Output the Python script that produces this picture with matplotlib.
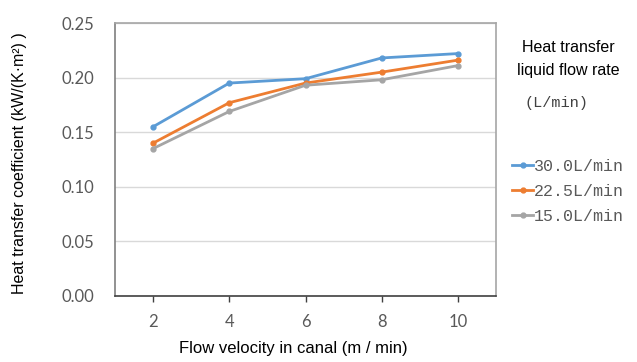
import matplotlib.pyplot as plt
import numpy as np

velocity = ["2", "4", "6", "8", "10"]
flow_labels = ["30.0L/min", "22.5L/min", "15.0L/min"]
coef_30 = [0.155, 0.195, 0.199, 0.218, 0.222]
coef_225 = [0.140, 0.177, 0.195, 0.205, 0.216]
coef_15 = [0.135, 0.169, 0.193, 0.198, 0.211]
colors = ["#5B9BD5", "#ED7D31", "#A5A5A5"]

plt.rcParams['font.family'] = ['Liberation Sans', 'DejaVu Sans']

fig = plt.figure(figsize=(6.37, 3.62), dpi=100)
ax = fig.add_axes([115/637, 1-296/362, 381/637, 273/362])

x = np.arange(len(velocity))
for ys, lab, c in zip([coef_30, coef_225, coef_15], flow_labels, colors):
    ax.plot(x, ys, color=c, lw=2, marker='o', ms=3.5, label=lab)

ax.set_xlim(-0.5, len(velocity) - 0.5)
ax.set_ylim(0, 0.25)
ax.set_xticks(x)
ax.set_xticklabels(velocity, family='Lato')
yt = np.arange(0, 0.251, 0.05)
ax.set_yticks(yt)
ax.set_yticklabels(['%.2f' % v for v in yt], family='Lato')
ax.grid(axis='y', color='#D9D9D9', lw=1)
ax.set_axisbelow(True)
ax.tick_params(axis='y', length=0, labelsize=12, colors='#595959', pad=15)
ax.tick_params(axis='x', length=4, width=1, color='#404040', labelsize=12,
               labelcolor='#595959', pad=9)
for s in ['top', 'right']:
    ax.spines[s].set_color('#A6A6A6')
ax.spines['left'].set_color('#7F7F7F')
ax.spines['bottom'].set_color('#404040')
for s in ax.spines.values():
    s.set_linewidth(1.2)

ax.set_xlabel('Flow velocity in canal (m / min)', fontsize=12)
ax.set_ylabel('Heat transfer coefficient (kW/(K\u00b7m\u00b2) )', fontsize=11.5)
ax.xaxis.set_label_coords(0.4685, -0.165)
ax.yaxis.set_label_coords(-0.231, 0.487)

fig.text(568/637, 1-59/362, 'Heat transfer\nliquid flow rate', ha='center', va='center',
         fontsize=11.5, linespacing=1.65)
fig.text(556/637, 1-103/362, '(L/min)', ha='center', va='center',
         fontsize=11, family=['Liberation Mono'], color='#404040')

leg = ax.legend(loc='upper left', bbox_to_anchor=(505/637, 1-152/362),
                bbox_transform=fig.transFigure, frameon=False, handlelength=1.3,
                handletextpad=0.05, labelspacing=0.62, borderaxespad=0,
                prop={'family': 'Liberation Mono', 'size': 12})
for t in leg.get_texts():
    t.set_color('#595959')

fig.savefig('out.png', dpi=100)
